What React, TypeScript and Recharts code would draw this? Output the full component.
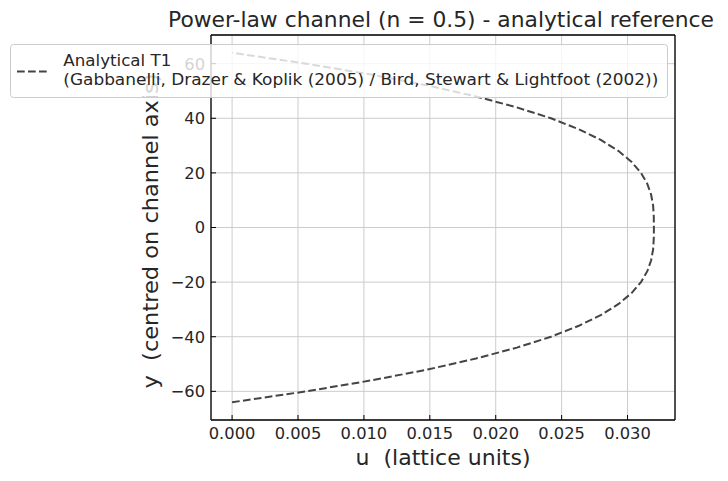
import React from "react";
import { LineChart, Line, XAxis, YAxis, CartesianGrid, ReferenceLine } from "recharts";

// channel coordinate (lattice nodes, centred on axis)
const yPositions = [
  -64, -60, -56, -52, -48, -44, -40, -36, -32, -28, -24, -20, -16, -12, -8, -4, 0,
  4, 8, 12, 16, 20, 24, 28, 32, 36, 40, 44, 48, 52, 56, 60, 64,
];
// analytical velocity (lattice units)
const uValues = [
  0.0, 0.00563, 0.01056, 0.01484, 0.0185, 0.0216, 0.02419, 0.0263, 0.028, 0.02932,
  0.03031, 0.03102, 0.0315, 0.03179, 0.03194, 0.03199, 0.032,
  0.03199, 0.03194, 0.03179, 0.0315, 0.03102, 0.03031, 0.02932, 0.028, 0.0263,
  0.02419, 0.0216, 0.0185, 0.01484, 0.01056, 0.00563, 0.0,
];
const xTicks = [0, 0.005, 0.01, 0.015, 0.02, 0.025, 0.03];
const yTicks = [-60, -40, -20, 0, 20, 40, 60];

const titleText = "Power-law channel (n = 0.5) - analytical reference";
const xLabelText = "u  (lattice units)";
const yLabelText = "y  (centred on channel axis)";
const legendLine1 = "Analytical T1";
const legendLine2 = "(Gabbanelli, Drazer & Koplik (2005) / Bird, Stewart & Lightfoot (2002))";

const data = yPositions.map((y, i) => ({ u: uValues[i], y }));

const FONT = "DejaVu Sans";
const TEXT = "#262626";
const LINE = "#444444";
const DASH = "7.7 3.3";

const XTick = (props: any) => {
  const { x, y, payload } = props;
  return (
    <g>
      <line x1={x} y1={y} x2={x} y2={y - 5} stroke="#000" strokeWidth={1} />
      <text x={x} y={y + 7} dy="0.72em" textAnchor="middle" fontFamily={FONT} fontSize={16.3} fill={TEXT}>
        {Number(payload.value).toFixed(3)}
      </text>
    </g>
  );
};

const YTick = (props: any) => {
  const { x, y, payload } = props;
  const v = Number(payload.value);
  const label = v < 0 ? "\u2212" + Math.abs(v) : String(v);
  return (
    <g>
      <line x1={x} y1={y} x2={x + 5} y2={y} stroke="#000" strokeWidth={1} />
      <text x={x - 6} y={y} dy="0.36em" textAnchor="end" fontFamily={FONT} fontSize={16.3} fill={TEXT}>
        {label}
      </text>
    </g>
  );
};

export default function App() {
  return (
    <div style={{ position: "absolute", left: 0, top: 0, width: 728, height: 481, background: "#fff" }}>
      <LineChart
        width={728}
        height={481}
        data={data}
        margin={{ top: 35, right: 52, bottom: 0, left: 0 }}
      >
        <CartesianGrid stroke="#cccccc" strokeWidth={1} />
        <XAxis
          dataKey="u"
          type="number"
          domain={[-0.0016, 0.0336]}
          ticks={xTicks}
          allowDataOverflow
          height={61}
          tickSize={0}
          tickMargin={0}
          axisLine={{ stroke: "#000", strokeWidth: 1.3 }}
          tick={(p: any) => <XTick {...p} />}
          interval={0}
          label={{
            content: () => (
              <text
                x={443}
                y={465}
                textAnchor="middle"
                fontFamily={FONT}
                fontSize={21.5}
                fill={TEXT}
                textLength={175}
                lengthAdjust="spacingAndGlyphs"
                style={{ whiteSpace: "pre" }}
              >
                {xLabelText}
              </text>
            ),
          }}
        />
        <YAxis
          dataKey="y"
          type="number"
          domain={[-70.5, 70.5]}
          ticks={yTicks}
          allowDataOverflow
          width={211}
          tickSize={0}
          tickMargin={0}
          axisLine={{ stroke: "#000", strokeWidth: 1.3 }}
          tick={(p: any) => <YTick {...p} />}
          interval={0}
          label={{
            content: () => (
              <text
                x={158}
                y={231}
                transform="rotate(-90 158 231)"
                textAnchor="middle"
                fontFamily={FONT}
                fontSize={21.5}
                fill={TEXT}
                textLength={315}
                lengthAdjust="spacingAndGlyphs"
                style={{ whiteSpace: "pre" }}
              >
                {yLabelText}
              </text>
            ),
          }}
        />
        <YAxis
          yAxisId="right"
          orientation="right"
          type="number"
          domain={[-70.5, 70.5]}
          width={1}
          tick={false}
          tickLine={false}
          axisLine={{ stroke: "#000", strokeWidth: 1.3 }}
        />
        <ReferenceLine y={70.5} stroke="#000" strokeWidth={1.3} ifOverflow="visible" />
        <Line
          type="linear"
          dataKey="y"
          stroke={LINE}
          strokeWidth={2}
          strokeDasharray={DASH}
          dot={false}
          activeDot={false}
          isAnimationActive={false}
        />
      </LineChart>
      <svg
        width={728}
        height={481}
        style={{ position: "absolute", left: 0, top: 0, pointerEvents: "none" }}
      >
        <text
          x={441}
          y={27}
          textAnchor="middle"
          fontFamily={FONT}
          fontSize={21.5}
          fill={TEXT}
          textLength={546}
          lengthAdjust="spacingAndGlyphs"
        >
          {titleText}
        </text>
        <rect
          x={10.5}
          y={44.5}
          width={657}
          height={53}
          rx={3}
          ry={3}
          fill="#ffffff"
          fillOpacity={0.8}
          stroke="#cccccc"
          strokeWidth={1}
        />
        <line x1={17} y1={71.5} x2={47} y2={71.5} stroke={LINE} strokeWidth={2} strokeDasharray={DASH} />
        <text
          x={63.3}
          y={65.5}
          fontFamily={FONT}
          fontSize={16}
          fill={TEXT}
          textLength={108}
          lengthAdjust="spacingAndGlyphs"
        >
          {legendLine1}
        </text>
        <text
          x={63.3}
          y={84.5}
          fontFamily={FONT}
          fontSize={16}
          fill={TEXT}
          textLength={595}
          lengthAdjust="spacingAndGlyphs"
        >
          {legendLine2}
        </text>
      </svg>
    </div>
  );
}
